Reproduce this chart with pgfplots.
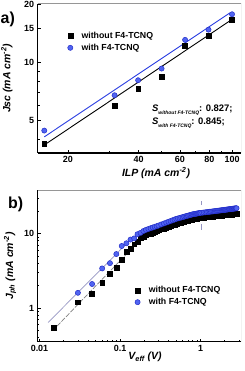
\documentclass[border=0pt]{standalone}
\usepackage{fontspec}
\setmainfont{Liberation Sans}
\usepackage{pgfplots}
\pgfplotsset{compat=1.18}
\definecolor{myblue}{RGB}{80,100,240}
\definecolor{myblueedge}{RGB}{35,45,200}
\definecolor{fitblue}{RGB}{40,60,225}
\definecolor{grayblue}{RGB}{150,150,195}
\definecolor{boxgray}{RGB}{150,150,150}
\pgfplotsset{
  mystyle/.style={
    scale only axis, width=203.3bp,
    axis lines=left,
    axis line style={-, line width=1.1pt, black},
    tick align=inside,
    tick style={black, line width=0.6pt},
    major tick length=3bp, minor tick length=1.8bp,
    tick label style={font=\fontsize{9}{10}\selectfont\bfseries},
    label style={font=\fontsize{10.5}{12}\selectfont\bfseries\itshape},
    legend style={draw=none, fill=none, font=\fontsize{8.8}{10}\selectfont\bfseries, row sep=0pt},
    legend cell align=left,
    legend image code/.code={\draw[##1, mark repeat=1] plot coordinates {(0bp,0bp)}; \path (-3bp,0bp) (9bp,0bp);},
  },
  blacksq/.style={only marks, mark=square*, mark size=2.4bp, black},
  bluecirc/.style={only marks, mark=*, mark size=2.6bp, mark options={draw=myblueedge, fill=myblue, line width=0.5pt}},
}
\begin{document}
\begin{tikzpicture}
\useasboundingbox (0,0) rectangle (245bp,371bp);
\node[anchor=base west, font=\fontsize{16}{18}\selectfont\bfseries, inner sep=0pt] at (0.5bp,347bp) {a)};
\node[anchor=base west, font=\fontsize{16}{18}\selectfont\bfseries, inner sep=0pt] at (8bp,162bp) {b)};
\begin{axis}[xmode=log, ymode=log, mystyle,
  at={(37.7bp,218bp)}, anchor=south west, height=149.3bp,
  xmin=14.86, xmax=109.2, ymin=3.38, ymax=20.2,
  xtick={20,40,60,80,100}, xticklabels={\textbf{20},\textbf{40},\textbf{60},\textbf{80},\textbf{100}},
  minor xtick={30,50,70,90},
  ytick={5,10,15,20}, yticklabels={\textbf{5},\textbf{10},\textbf{15},\textbf{20}},
  minor ytick={4,6,7,8,9},
  xlabel={ILP (mA cm\textsuperscript{-2})},
  ylabel={Jsc (mA cm\textsuperscript{-2})},
  xlabel style={at={(axis description cs:0.582,-0.132)}, anchor=center},
  ylabel style={at={(axis description cs:-0.152,0.5)}, anchor=center},
  legend style={at={(0.129,0.838)}, anchor=north west},
]
\draw[boxgray, line width=0.6pt] (rel axis cs:0,1) -- (rel axis cs:1,1) -- (rel axis cs:1,0);
\addplot[black, line width=0.9pt, forget plot] coordinates {(15.85,3.72) (99,16.6)};
\addplot[fitblue, line width=0.9pt, forget plot] coordinates {(15.85,4.10) (98,18.1)};
\addplot[blacksq] coordinates {(15.85,3.78) (31.6,5.97) (39.8,7.31) (50.1,8.45) (63.1,12.2) (79.4,13.8) (100,16.7)};
\addlegendentry{without F4-TCNQ}
\addplot[bluecirc] coordinates {(15.85,4.42) (31.6,6.75) (39.8,8.08) (50.1,9.29) (63.1,13.1) (79.4,14.8) (100,17.8)};
\addlegendentry{with F4-TCNQ}
\node[anchor=base west, font=\fontsize{9.5}{11}\selectfont\bfseries, inner sep=0pt] at (rel axis cs:0.562,0.277)
  {\textit{S}\raisebox{-2.6bp}{\fontsize{5}{6}\selectfont\itshape without F4-TCNQ}: 0.827;};
\node[anchor=base west, font=\fontsize{9.5}{11}\selectfont\bfseries, inner sep=0pt] at (rel axis cs:0.562,0.19)
  {\textit{S}\raisebox{-2.6bp}{\fontsize{5}{6}\selectfont\itshape with F4-TCNQ}: 0.845;};
\end{axis}
\begin{axis}[xmode=log, ymode=log, mystyle,
  at={(37.7bp,29.3bp)}, anchor=south west, height=151.7bp,
  xmin=0.0095, xmax=3.18, ymin=0.353, ymax=38.4,
  xtick={0.01,0.1,1}, xticklabels={\textbf{0.01},\textbf{0.1},\textbf{1}},
  minor xtick={0.02,0.03,0.04,0.05,0.06,0.07,0.08,0.09,0.2,0.3,0.4,0.5,0.6,0.7,0.8,0.9,2,3},
  ytick={1,10}, yticklabels={\textbf{1},\textbf{10}},
  minor ytick={0.4,0.5,0.6,0.7,0.8,0.9,2,3,4,5,6,7,8,9,20,30},
  xlabel={V\textsubscript{eff} (V)},
  ylabel={J\textsubscript{ph} (mA cm\textsuperscript{-2})},
  xlabel style={at={(axis description cs:0.528,-0.10)}, anchor=center},
  ylabel style={at={(axis description cs:-0.136,0.5)}, anchor=center},
  legend style={at={(0.46,0.392)}, anchor=north west},
]
\draw[boxgray, line width=0.6pt] (rel axis cs:0,1) -- (rel axis cs:1,1) -- (rel axis cs:1,0);
\addplot[grayblue, line width=0.7pt, forget plot] coordinates {(0.0128,0.64) (0.14,8.6)};
\addplot[gray, line width=0.7pt, dash pattern=on 5pt off 1.5pt, forget plot] coordinates {(0.0165,0.57) (0.15,6.8)};
\addplot[grayblue, line width=0.7pt, forget plot] coordinates {(1.03,11.2) (1.03,13.6)};
\addplot[grayblue, line width=0.7pt, forget plot] coordinates {(1.03,24) (1.03,27.5)};
\addplot[blacksq] coordinates {
(0.015,0.54) (0.03,1.2) (0.045,1.57) (0.06,2.2) (0.075,2.9) (0.09,3.45) (0.105,4.5) (0.12,5.7)
(0.135,6.3) (0.15,7.2) (0.165,7.8) (0.18,8.7) (0.195,9.1) (0.21,9.5) (0.225,9.8) (0.24,10.05)
(0.255,10.35) (0.27,10.6) (0.285,10.85) (0.3,11.05)
(0.325,11.41) (0.35,11.75) (0.375,12.08) (0.4,12.40) (0.425,12.70) (0.45,13.00) (0.475,13.28)
(0.5,13.56) (0.525,13.76) (0.55,13.95) (0.575,14.14) (0.6,14.32) (0.625,14.50) (0.65,14.67)
(0.675,14.84) (0.7,15.00) (0.725,15.16) (0.75,15.31) (0.775,15.47) (0.8,15.61) (0.825,15.71)
(0.85,15.80) (0.875,15.89) (0.9,15.98) (0.925,16.07) (0.95,16.16) (0.975,16.24) (1.0,16.32)
(1.05,16.41) (1.1,16.50) (1.15,16.58) (1.2,16.67) (1.25,16.74) (1.3,16.82) (1.35,16.89)
(1.4,16.96) (1.45,17.03) (1.5,17.10) (1.55,17.16) (1.6,17.23) (1.65,17.29) (1.7,17.35)
(1.75,17.40) (1.8,17.46) (1.85,17.52) (1.9,17.57) (1.95,17.62) (2.0,17.67) (2.05,17.72)
(2.1,17.77) (2.15,17.82) (2.2,17.87) (2.25,17.91) (2.3,17.96) (2.35,18.01) (2.4,18.05)
(2.45,18.09) (2.5,18.13) (2.55,18.18) (2.6,18.22) (2.65,18.26) (2.7,18.29) (2.75,18.33) (2.8,18.37)
};
\addlegendentry{without F4-TCNQ}
\addplot[bluecirc] coordinates {
(0.03,1.6) (0.045,2.1) (0.06,3.4) (0.075,4.0) (0.09,5.3) (0.105,6.8) (0.12,7.4) (0.135,8.3)
(0.15,8.6) (0.165,9.8) (0.18,10.2) (0.195,10.8) (0.21,11.2) (0.225,11.5) (0.24,11.8)
(0.255,12.05) (0.27,12.3) (0.285,12.55) (0.3,12.8)
(0.325,13.24) (0.35,13.63) (0.375,14.01) (0.4,14.38) (0.425,14.73) (0.45,15.08) (0.475,15.40)
(0.5,15.73) (0.525,15.96) (0.55,16.18) (0.575,16.40) (0.6,16.61) (0.625,16.82) (0.65,17.02)
(0.675,17.21) (0.7,17.40) (0.725,17.59) (0.75,17.76) (0.775,17.95) (0.8,18.11) (0.825,18.22)
(0.85,18.33) (0.875,18.43) (0.9,18.54) (0.925,18.64) (0.95,18.75) (0.975,18.84) (1.0,18.93)
(1.05,19.05) (1.1,19.17) (1.15,19.27) (1.2,19.39) (1.25,19.49) (1.3,19.60) (1.35,19.69)
(1.4,19.79) (1.45,19.88) (1.5,19.98) (1.55,20.06) (1.6,20.16) (1.65,20.24) (1.7,20.33)
(1.75,20.40) (1.8,20.49) (1.85,20.57) (1.9,20.64) (1.95,20.72) (2.0,20.79) (2.05,20.87)
(2.1,20.94) (2.15,21.01) (2.2,21.09) (2.25,21.15) (2.3,21.22) (2.35,21.30) (2.4,21.36)
(2.45,21.42) (2.5,21.48) (2.55,21.56) (2.6,21.62) (2.65,21.68) (2.7,21.73) (2.75,21.80) (2.8,21.86)
};
\addlegendentry{with F4-TCNQ}
\end{axis}
\end{tikzpicture}
\end{document}
